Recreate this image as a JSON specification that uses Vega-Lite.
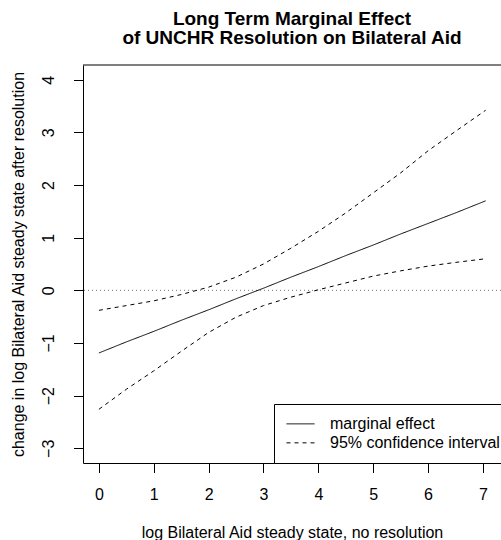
{
  "$schema": "https://vega.github.io/schema/vega-lite/v6.json",
  "width": 418,
  "height": 398,
  "autosize": {"type": "none"},
  "padding": {"left": 83, "top": 65, "right": 0, "bottom": 77},
  "background": "white",
  "title": {
    "text": ["Long Term Marginal Effect", "of UNCHR Resolution on Bilateral Aid"],
    "font": "Liberation Sans",
    "fontSize": 19,
    "fontWeight": "bold",
    "color": "black",
    "anchor": "middle",
    "frame": "group",
    "baseline": "alphabetic",
    "lineHeight": 19,
    "offset": 2
  },
  "config": {
    "view": {"stroke": null},
    "font": "Liberation Sans",
    "axis": {
      "grid": false,
      "domainColor": "black",
      "domainWidth": 1,
      "tickColor": "black",
      "tickWidth": 1,
      "tickSize": 9.5,
      "labelFont": "Liberation Sans",
      "labelFontSize": 16,
      "labelColor": "black",
      "titleFont": "Liberation Sans",
      "titleFontSize": 16,
      "titleFontWeight": "normal",
      "titleColor": "black"
    }
  },
  "data": {
    "values": [
      {"x": 0, "y": -1.19, "band": "estimate", "series": "marginal effect"},
      {"x": 0.5, "y": -0.98, "band": "estimate", "series": "marginal effect"},
      {"x": 1, "y": -0.78, "band": "estimate", "series": "marginal effect"},
      {"x": 1.5, "y": -0.57, "band": "estimate", "series": "marginal effect"},
      {"x": 2, "y": -0.37, "band": "estimate", "series": "marginal effect"},
      {"x": 2.5, "y": -0.16, "band": "estimate", "series": "marginal effect"},
      {"x": 3, "y": 0.04, "band": "estimate", "series": "marginal effect"},
      {"x": 3.5, "y": 0.25, "band": "estimate", "series": "marginal effect"},
      {"x": 4, "y": 0.45, "band": "estimate", "series": "marginal effect"},
      {"x": 4.5, "y": 0.66, "band": "estimate", "series": "marginal effect"},
      {"x": 5, "y": 0.86, "band": "estimate", "series": "marginal effect"},
      {"x": 5.5, "y": 1.07, "band": "estimate", "series": "marginal effect"},
      {"x": 6, "y": 1.27, "band": "estimate", "series": "marginal effect"},
      {"x": 6.5, "y": 1.47, "band": "estimate", "series": "marginal effect"},
      {"x": 7.05, "y": 1.70, "band": "estimate", "series": "marginal effect"},

      {"x": 0, "y": -0.38, "band": "upper", "series": "95% confidence interval"},
      {"x": 0.5, "y": -0.29, "band": "upper", "series": "95% confidence interval"},
      {"x": 1, "y": -0.20, "band": "upper", "series": "95% confidence interval"},
      {"x": 1.5, "y": -0.08, "band": "upper", "series": "95% confidence interval"},
      {"x": 2, "y": 0.06, "band": "upper", "series": "95% confidence interval"},
      {"x": 2.5, "y": 0.25, "band": "upper", "series": "95% confidence interval"},
      {"x": 3, "y": 0.50, "band": "upper", "series": "95% confidence interval"},
      {"x": 3.5, "y": 0.80, "band": "upper", "series": "95% confidence interval"},
      {"x": 4, "y": 1.12, "band": "upper", "series": "95% confidence interval"},
      {"x": 4.5, "y": 1.47, "band": "upper", "series": "95% confidence interval"},
      {"x": 5, "y": 1.85, "band": "upper", "series": "95% confidence interval"},
      {"x": 5.5, "y": 2.23, "band": "upper", "series": "95% confidence interval"},
      {"x": 6, "y": 2.65, "band": "upper", "series": "95% confidence interval"},
      {"x": 6.5, "y": 3.02, "band": "upper", "series": "95% confidence interval"},
      {"x": 7.05, "y": 3.42, "band": "upper", "series": "95% confidence interval"},

      {"x": 0, "y": -2.26, "band": "lower", "series": "95% confidence interval"},
      {"x": 0.5, "y": -1.88, "band": "lower", "series": "95% confidence interval"},
      {"x": 1, "y": -1.53, "band": "lower", "series": "95% confidence interval"},
      {"x": 1.5, "y": -1.16, "band": "lower", "series": "95% confidence interval"},
      {"x": 2, "y": -0.80, "band": "lower", "series": "95% confidence interval"},
      {"x": 2.5, "y": -0.51, "band": "lower", "series": "95% confidence interval"},
      {"x": 3, "y": -0.29, "band": "lower", "series": "95% confidence interval"},
      {"x": 3.5, "y": -0.13, "band": "lower", "series": "95% confidence interval"},
      {"x": 4, "y": 0.01, "band": "lower", "series": "95% confidence interval"},
      {"x": 4.5, "y": 0.14, "band": "lower", "series": "95% confidence interval"},
      {"x": 5, "y": 0.27, "band": "lower", "series": "95% confidence interval"},
      {"x": 5.5, "y": 0.37, "band": "lower", "series": "95% confidence interval"},
      {"x": 6, "y": 0.46, "band": "lower", "series": "95% confidence interval"},
      {"x": 6.5, "y": 0.53, "band": "lower", "series": "95% confidence interval"},
      {"x": 7.05, "y": 0.60, "band": "lower", "series": "95% confidence interval"}
    ]
  },
  "layer": [
    {
      "data": {"values": [{}]},
      "mark": {"type": "rule", "color": "#777777", "strokeWidth": 1, "strokeDash": [1, 3]},
      "encoding": {"y": {"datum": 0, "type": "quantitative"}}
    },
    {
      "data": {"values": [{}]},
      "mark": {"type": "rule", "color": "black", "strokeWidth": 1},
      "encoding": {"y": {"datum": 4.28, "type": "quantitative"}}
    },
    {
      "mark": {"type": "line", "color": "black", "strokeWidth": 1},
      "encoding": {
        "x": {
          "field": "x",
          "type": "quantitative",
          "scale": {"domain": [-0.29, 7.33], "nice": false, "zero": false},
          "axis": {
            "values": [0, 1, 2, 3, 4, 5, 6, 7],
            "title": "log Bilateral Aid steady state, no resolution",
            "titleX": 209,
            "titleY": 74,
            "titleAlign": "center",
            "titleBaseline": "alphabetic",
            "labelAlign": "center",
            "labelBaseline": "alphabetic",
            "labelPadding": 26.5
          }
        },
        "y": {
          "field": "y",
          "type": "quantitative",
          "scale": {"domain": [-3.28, 4.28], "nice": false, "zero": false},
          "axis": {
            "values": [-3, -2, -1, 0, 1, 2, 3, 4],
            "title": "change in log Bilateral Aid steady state after resolution",
            "titleAngle": -90,
            "titleX": -60,
            "titleY": 199,
            "titleAlign": "center",
            "titleBaseline": "alphabetic",
            "labelAngle": -90,
            "labelAlign": "center",
            "labelBaseline": "alphabetic",
            "labelPadding": 20.2
          }
        },
        "detail": {"field": "band", "type": "nominal"},
        "strokeDash": {
          "field": "series",
          "type": "nominal",
          "scale": {
            "domain": ["marginal effect", "95% confidence interval"],
            "range": [[1, 0], [4, 4]]
          },
          "legend": {
            "title": null,
            "orient": "none",
            "legendX": 191,
            "legendY": 339,
            "direction": "vertical",
            "strokeColor": "black",
            "fillColor": "white",
            "padding": 12,
            "symbolType": "stroke",
            "symbolSize": 784,
            "symbolStrokeWidth": 1,
            "symbolStrokeColor": "black",
            "labelFont": "Liberation Sans",
            "labelFontSize": 16,
            "labelColor": "black",
            "labelOffset": 15,
            "labelLimit": 400,
            "clipHeight": 15.7,
            "rowPadding": 2
          }
        }
      }
    }
  ]
}
